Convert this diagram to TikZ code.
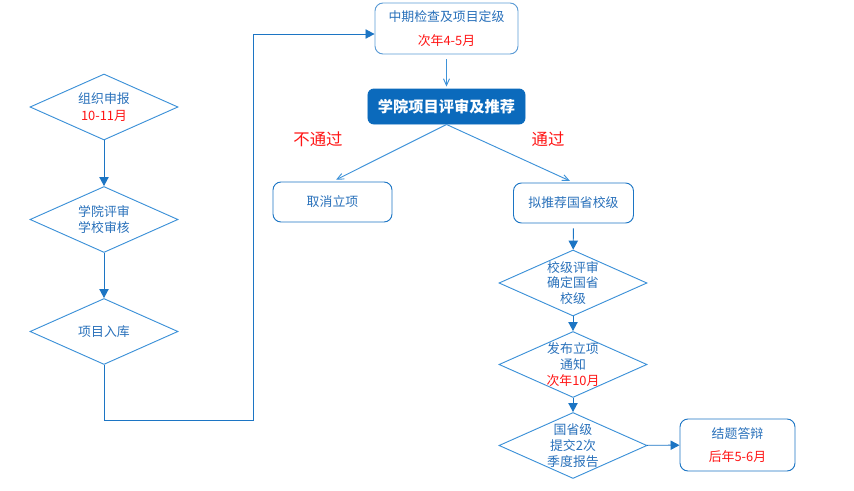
\documentclass[tikz,border=0pt]{standalone}
\usepackage{fontspec}
\setmainfont{Noto Sans CJK SC}
\usepackage{tikz}
\usetikzlibrary{arrows.meta,shapes.geometric,positioning}

\definecolor{flowblue}{RGB}{28,117,196}
\definecolor{edgeblue}{RGB}{62,146,216}
\definecolor{boxblue}{RGB}{91,155,213}
\definecolor{textblue}{RGB}{40,112,186}
\definecolor{fillblue}{RGB}{11,106,188}
\definecolor{alertred}{RGB}{255,20,20}

\begin{document}
\begin{tikzpicture}[x=0.03cm, y=-0.03cm, >={Triangle[width=0.28cm,length=0.27cm]}]
\tikzstyle{every node}=[font=\fontsize{11}{14}\selectfont, text=textblue]
\tikzstyle{decision}=[diamond, draw=edgeblue, line width=0.8pt, inner sep=0pt, minimum width=4.44cm, minimum height=1.98cm]
\tikzstyle{dtext}=[align=center]
\tikzstyle{phase}=[rectangle, rounded corners=0.24cm, draw=boxblue, line width=0.8pt, align=center]
\tikzstyle{flow}=[color=flowblue, line width=0.8pt]
\tikzstyle{split}=[flow, color=edgeblue, -{Straight Barb[length=0.2cm,width=0.18cm]}]
\tikzstyle{verdict}=[font=\fontsize{14}{16}\selectfont, text=alertred]
\useasboundingbox (0,0) rectangle (854,490);

% left column
\node[decision, label={[dtext]center:组织申报\\\textcolor{alertred}{10-11月}}]  (apply)  at (104,107)   {};
\node[decision, label={[dtext]center:学院评审\\学校审核}]                      (assess) at (104,219.5) {};
\node[decision, label={[dtext]center:项目入库}]                                (stock)  at (104,331.5) {};

% right column
\node[phase, minimum width=4.29cm, minimum height=1.53cm] (midterm) at (446.5,28.5) {中期检查及项目定级\\[6pt]\textcolor{alertred}{次年4-5月}};
\node[phase, fill=fillblue, draw=fillblue, rounded corners=0.18cm, minimum width=4.71cm, minimum height=1.05cm, text=white, font=\fontsize{13}{15}\selectfont\bfseries] (review) at (446.5,106.5) {学院项目评审及推荐};
\node[phase, draw=flowblue, minimum width=3.57cm, minimum height=1.2cm] (cancel)    at (332.5,202) {取消立项};
\node[phase, draw=flowblue, minimum width=3.6cm,  minimum height=1.2cm] (recommend) at (573.5,203) {拟推荐国省校级};
\node[verdict] (fail) at (318,139) {不通过};
\node[verdict] (pass) at (548,139) {通过};

\node[decision, label={[dtext, font=\fontsize{11}{13.5}\selectfont]center:校级评审\\确定国省\\校级}]                      (schoolrev) at (573,283)   {};
\node[decision, label={[dtext, font=\fontsize{11}{13.5}\selectfont]center:发布立项\\通知\\\textcolor{alertred}{次年10月}}] (notice)    at (573,364.5) {};
\node[decision, label={[dtext, font=\fontsize{11}{13.5}\selectfont]center:国省级\\提交2次\\季度报告}]                    (report)    at (573,445.5) {};
\node[phase, draw=flowblue, minimum width=3.45cm, minimum height=1.56cm] (defense) at (737.5,445) {结题答辩\\[6pt]\textcolor{alertred}{后年5-6月}};

\path[flow]
(apply)     edge[->] (assess)
(assess)    edge[->] (stock)
(recommend) edge[->, shorten <=0.15cm] (schoolrev)
(schoolrev) edge[->] (notice)
(notice)    edge[->] (report)
(report)    edge[->] (defense)
(midterm)   edge[split, shorten <=0.15cm, shorten >=0.06cm] (review)
(review.south) edge[split, shorten >=0.12cm] (cancel.north)
(review.south) edge[split, shorten >=0.12cm] (recommend.north);

\draw[flow, ->] (stock.south) -- ++(0,55) -| (253,34) -- ([yshift=-0.165cm]midterm.west);
\end{tikzpicture}
\end{document}
